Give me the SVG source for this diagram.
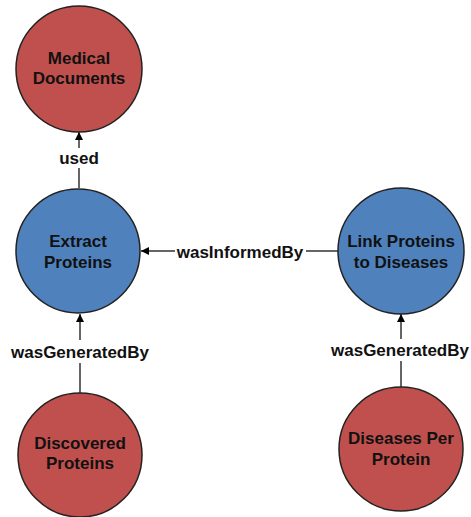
<svg xmlns="http://www.w3.org/2000/svg" width="471" height="517" viewBox="0 0 471 517">
  <style>
    .entity { fill: #c0504d; stroke: #222; stroke-width: 1.5; }
    .activity { fill: #4f81bd; stroke: #222; stroke-width: 1.5; }
    .node-text { font-family: "Liberation Sans", Arial, sans-serif; font-weight: bold; font-size: 17px; fill: #111; text-anchor: middle; }
    .edge { stroke: #333; stroke-width: 1.5; fill: none; }
    .edge-label { font-family: "Liberation Sans", Arial, sans-serif; font-weight: bold; font-size: 17px; fill: #111; text-anchor: middle; }
  </style>
  <defs>
    <marker id="arrow" viewBox="0 0 10 10" refX="10" refY="5" markerWidth="8" markerHeight="8" markerUnits="userSpaceOnUse" orient="auto">
      <path d="M0,0 L10,5 L0,10 z" fill="#000"/>
    </marker>
  </defs>
  <rect width="471" height="517" fill="#fff"/>

  <g id="connectors">
    <!-- used -->
    <line class="edge" x1="79" y1="188" x2="79" y2="168"/>
    <line class="edge" x1="79" y1="148" x2="79" y2="132" marker-end="url(#arrow)"/>
    <text class="edge-label" x="79" y="164">used</text>
    <!-- wasInformedBy -->
    <line class="edge" x1="338" y1="251" x2="306" y2="251"/>
    <line class="edge" x1="175" y1="251" x2="141" y2="251" marker-end="url(#arrow)"/>
    <text class="edge-label" x="240" y="258">wasInformedBy</text>
    <!-- wasGeneratedBy (left) -->
    <line class="edge" x1="80" y1="393" x2="80" y2="363"/>
    <line class="edge" x1="80" y1="340" x2="80" y2="314" marker-end="url(#arrow)"/>
    <text class="edge-label" x="80" y="358">wasGeneratedBy</text>
    <!-- wasGeneratedBy (right) -->
    <line class="edge" x1="401" y1="387" x2="401" y2="361"/>
    <line class="edge" x1="401" y1="339" x2="401" y2="314" marker-end="url(#arrow)"/>
    <text class="edge-label" x="400" y="356">wasGeneratedBy</text>
  </g>

  <g id="medical-documents">
    <circle class="entity" cx="79" cy="69" r="63"/>
    <text class="node-text" x="79" y="64">Medical</text>
    <text class="node-text" x="79" y="84">Documents</text>
  </g>

  <g id="extract-proteins">
    <circle class="activity" cx="78" cy="251" r="62"/>
    <text class="node-text" x="78" y="247">Extract</text>
    <text class="node-text" x="78" y="268">Proteins</text>
  </g>

  <g id="link-proteins">
    <circle class="activity" cx="401" cy="251" r="63"/>
    <text class="node-text" x="401" y="247">Link Proteins</text>
    <text class="node-text" x="401" y="268">to Diseases</text>
  </g>

  <g id="discovered-proteins">
    <circle class="entity" cx="80" cy="455" r="62"/>
    <text class="node-text" x="80" y="449">Discovered</text>
    <text class="node-text" x="80" y="469">Proteins</text>
  </g>

  <g id="diseases-per-protein">
    <circle class="entity" cx="401" cy="449" r="62"/>
    <text class="node-text" x="401" y="444">Diseases Per</text>
    <text class="node-text" x="401" y="465">Protein</text>
  </g>
</svg>
